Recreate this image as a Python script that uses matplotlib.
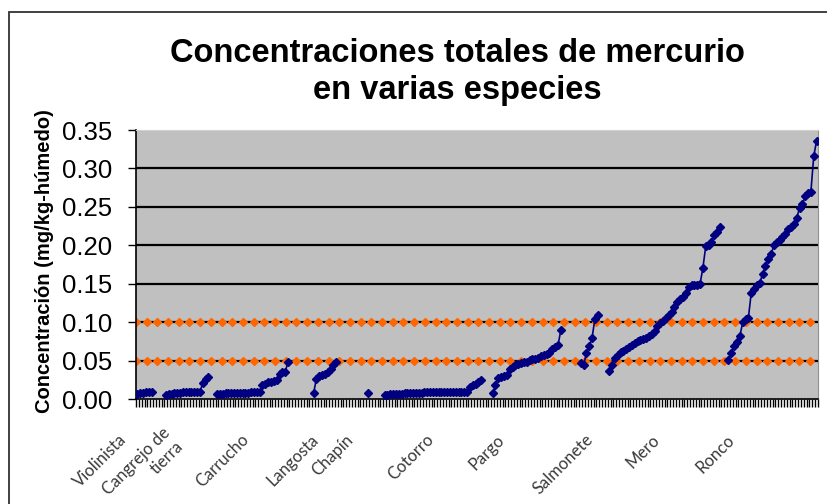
import numpy as np
import matplotlib
matplotlib.use("Agg")
import matplotlib.pyplot as plt
import matplotlib.transforms as mtransforms
from matplotlib.patches import Rectangle

# species in display order, with the number of empty categories before each one
species = ["Violinista", "Cangrejo de\ntierra", "Carrucho", "Langosta", "Chapín",
           "Cotorro", "Pargo", "Salmonete", "Mero", "Ronco"]
gaps = [0, 4, 2, 8, 10, 5, 3, 6, 3, 2]

violinista = [0.007, 0.008, 0.008, 0.009, 0.010, 0.010]
cangrejo = [0.006, 0.007, 0.007, 0.008, 0.008, 0.008, 0.009, 0.009, 0.009, 0.010,
            0.010, 0.010, 0.010, 0.021, 0.027, 0.029]
carrucho = [0.007, 0.007, 0.007, 0.008, 0.008, 0.008, 0.008, 0.008, 0.008, 0.008,
            0.008, 0.008, 0.009, 0.009, 0.009, 0.009, 0.018, 0.020, 0.022, 0.023,
            0.024, 0.025, 0.033, 0.035, 0.036, 0.048]
langosta = [0.008, 0.027, 0.030, 0.031, 0.033, 0.036, 0.040, 0.045, 0.048]
chapin = [0.008]
cotorro = [0.006, 0.006, 0.007, 0.007, 0.007, 0.007, 0.007, 0.008, 0.008, 0.008,
           0.008, 0.008, 0.008, 0.008, 0.009, 0.009, 0.009, 0.009, 0.009, 0.009,
           0.009, 0.009, 0.009, 0.010, 0.010, 0.010, 0.010, 0.010, 0.010, 0.010,
           0.016, 0.018, 0.020, 0.022, 0.025]
pargo = [0.008, 0.018, 0.028, 0.029, 0.030, 0.031, 0.039, 0.042, 0.045, 0.046,
         0.047, 0.048, 0.049, 0.051, 0.052, 0.053, 0.054, 0.056, 0.058, 0.059,
         0.060, 0.066, 0.068, 0.070, 0.090]
salmonete = [0.047, 0.044, 0.060, 0.069, 0.080, 0.105, 0.110]
mero = [0.037, 0.045, 0.054, 0.058, 0.061, 0.063, 0.066, 0.068, 0.071, 0.073,
        0.076, 0.077, 0.079, 0.080, 0.082, 0.085, 0.089, 0.095, 0.099, 0.102,
        0.106, 0.110, 0.114, 0.120, 0.127, 0.131, 0.133, 0.138, 0.146, 0.148,
        0.149, 0.149, 0.150, 0.171, 0.199, 0.200, 0.204, 0.213, 0.218, 0.224]
ronco = [0.051, 0.060, 0.069, 0.075, 0.082, 0.100, 0.104, 0.106, 0.138, 0.143,
         0.148, 0.151, 0.163, 0.173, 0.182, 0.189, 0.200, 0.204, 0.207, 0.211,
         0.215, 0.221, 0.224, 0.228, 0.236, 0.248, 0.254, 0.264, 0.268, 0.270,
         0.316, 0.336]

groups = [violinista, cangrejo, carrucho, langosta, chapin, cotorro, pargo,
          salmonete, mero, ronco]

# reference limits (orange series)
limits = [0.05, 0.10]
n_limit_points = 64

# category position of each species label
label_pos = [-4.7, 13.0, 38.2, 62.8, 75.1, 103.3, 128.3, 159.6, 182.8, 209.2]

# build the full category series with blanks between species
values = []
for g, vals in zip(gaps, groups):
    values += [np.nan] * g + list(vals)
values = np.array(values)
n = len(values)
x = np.arange(n)

fig = plt.figure(figsize=(8.27, 5.04), dpi=100)
ax = fig.add_axes([136 / 827, 1 - 399.3 / 504, 682 / 827, 269.3 / 504])
ax.set_facecolor("#c0c0c0")

for yv in np.arange(0.05, 0.35, 0.05):
    ax.axhline(yv, color="black", lw=1.6, zorder=1)

lx = np.linspace(-0.5, 236.7, n_limit_points)
for lim in limits:
    ax.plot(lx, np.full(n_limit_points, lim), ls="none", marker="D", ms=4.5,
            color="#ff6600", mec="#ff6600", zorder=2)

ax.plot(x, values, color="#000080", lw=1.2, marker="D", ms=4.2,
        mec="#000080", zorder=3)

ax.set_xlim(-0.5, n - 0.5)
ax.set_ylim(0, 0.35)
ax.set_yticks(np.arange(0, 0.351, 0.05))
ax.set_yticklabels([f"{v:.2f}" for v in np.arange(0, 0.351, 0.05)],
                   fontsize=18.5, family="Liberation Sans")
ax.tick_params(axis="y", length=6, width=1, pad=11)
ax.set_xticks(np.arange(n + 1) - 0.5)
ax.set_xticklabels([])
ax.tick_params(axis="x", length=6, width=1)

for side in ["left", "bottom"]:
    ax.spines[side].set_color("black")
    ax.spines[side].set_linewidth(1.2)
ax.spines["top"].set_color("#d0d0d0")
ax.spines["right"].set_color("#909090")

trans = mtransforms.blended_transform_factory(ax.transData, ax.transAxes)
for name, pos in zip(species, label_pos):
    ax.text(pos, -0.14, name, transform=trans, rotation=45, ha="right",
            va="center", rotation_mode="anchor", fontsize=12, family="Lato",
            color="#3a3a3a", clip_on=False)

ax.set_ylabel("Concentración (mg/kg-húmedo)", fontsize=14.5, fontweight="bold",
              family="Liberation Sans")
ax.yaxis.set_label_coords(-0.120, 0.512)

fig.text(0.553, 0.858, "Concentraciones totales de mercurio\nen varias especies",
         ha="center", va="center", fontsize=23.5, fontweight="bold",
         family="Liberation Sans", linespacing=1.25)

fig.patches.append(Rectangle((9 / 827, -0.1), 1.2, 1 - 12 / 504 + 0.1,
                             transform=fig.transFigure, fill=False,
                             ec="#333333", lw=1.3))

fig.savefig("out.png", dpi=100)
